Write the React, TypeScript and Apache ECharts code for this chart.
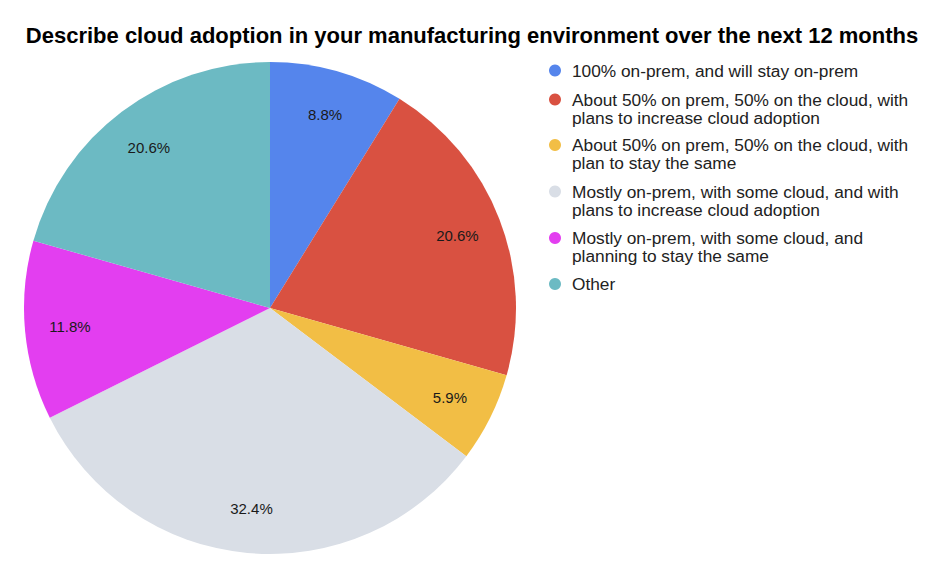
import React, { useEffect, useRef } from "react";
import * as echarts from "echarts";

const titleText = "Describe cloud adoption in your manufacturing environment over the next 12 months";

const categories = [
  "100% on-prem, and will stay on-prem",
  "About 50% on prem, 50% on the cloud, with plans to increase cloud adoption",
  "About 50% on prem, 50% on the cloud, with plan to stay the same",
  "Mostly on-prem, with some cloud, and with plans to increase cloud adoption",
  "Mostly on-prem, with some cloud, and planning to stay the same",
  "Other",
];

const legendLines = [
  ["100% on-prem, and will stay on-prem"],
  ["About 50% on prem, 50% on the cloud, with", "plans to increase cloud adoption"],
  ["About 50% on prem, 50% on the cloud, with", "plan to stay the same"],
  ["Mostly on-prem, with some cloud, and with", "plans to increase cloud adoption"],
  ["Mostly on-prem, with some cloud, and", "planning to stay the same"],
  ["Other"],
];

const counts = [3, 7, 2, 11, 4, 7];

const colors = ["#5585ec", "#d95141", "#f2be45", "#d9dee6", "#e33ef0", "#6cbac3"];

const legendFirstLineY = [70.5, 99.5, 145, 191.5, 238, 284];

export default function App() {
  const ref = useRef<HTMLDivElement>(null);
  useEffect(() => {
    if (!ref.current) return;
    const chart = echarts.init(ref.current, undefined, { renderer: "svg" });
    const total = counts.reduce((a, b) => a + b, 0);
    const font = "'Liberation Sans', Arial, Helvetica, sans-serif";
    const lineH = 18;
    const legends = categories.map((name, i) => {
      const lines = legendLines[i];
      const multi = lines.length > 1;
      // for multi-line items, add leading empty lines so the first line sits at the icon's centre
      const shown = multi ? [...new Array(lines.length - 1).fill(""), ...lines] : lines;
      const top = legendFirstLineY[i] - (shown.length * lineH) / 2;
      return {
        data: [name],
        left: 549,
        top,
        padding: 0,
        orient: "vertical",
        icon: "circle",
        itemWidth: 12,
        itemHeight: 12,
        itemGap: 0,
        formatter: () => shown.join("\n"),
        textStyle: {
          fontFamily: font,
          fontSize: 17.3,
          lineHeight: lineH,
          color: "#222",
          padding: [0, 0, 0, 6],
        },
      };
    });
    const data = categories.map((name, i) => ({
      name,
      value: counts[i],
      itemStyle: { color: colors[i] },
    }));
    chart.setOption({
      animation: false,
      title: {
        text: titleText,
        left: "center",
        top: 19,
        textStyle: {
          fontFamily: font,
          fontSize: 22,
          fontWeight: "bold",
          color: "#000",
        },
      },
      legend: legends,
      series: [
        {
          type: "pie",
          center: [270, 308],
          radius: [0, 246],
          startAngle: 90,
          clockwise: true,
          label: { show: false },
          labelLine: { show: false },
          itemStyle: { borderWidth: 0 },
          emphasis: { disabled: true },
          data,
        },
        {
          type: "pie",
          center: [270, 308],
          radius: [150, 246],
          startAngle: 90,
          clockwise: true,
          silent: true,
          itemStyle: { color: "rgba(0,0,0,0)", borderWidth: 0 },
          emphasis: { disabled: true },
          labelLine: { show: false },
          label: {
            show: true,
            position: "inside",
            fontFamily: font,
            fontSize: 15,
            color: "#1a1a1a",
            formatter: (p: any) => ((p.value / total) * 100).toFixed(1) + "%",
          },
          data: categories.map((name, i) => ({ name, value: counts[i] })),
        },
      ],
    });
    return () => chart.dispose();
  }, []);
  return (
    <div
      ref={ref}
      style={{ position: "fixed", left: 0, top: 0, width: 944, height: 569, background: "#fff" }}
    />
  );
}
